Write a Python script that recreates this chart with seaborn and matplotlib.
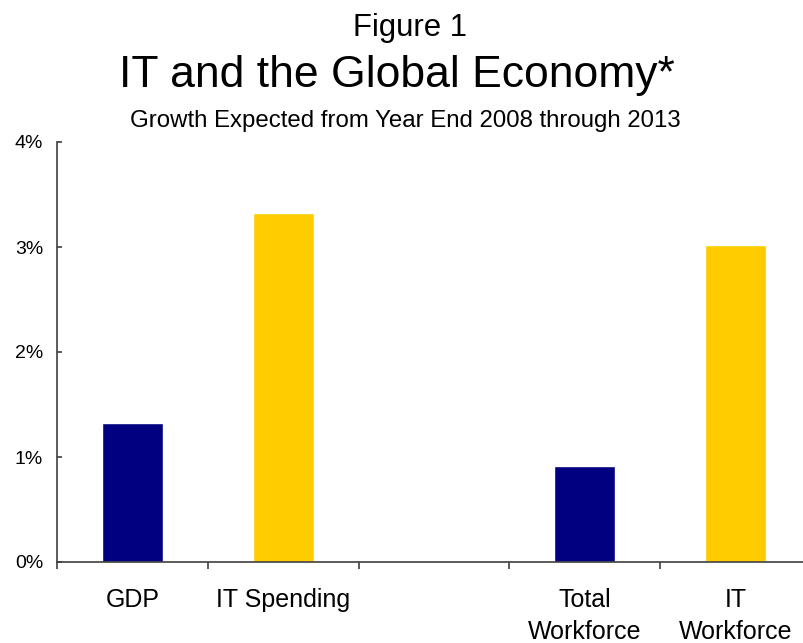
import matplotlib
matplotlib.use("Agg")
import matplotlib.pyplot as plt
import seaborn as sns
import numpy as np

categories = ["GDP", "IT Spending", " ", "Total\nWorkforce", "IT\nWorkforce"]
data_categories = ["GDP", "IT Spending", "Total\nWorkforce", "IT\nWorkforce"]
values = [1.32, 3.32, 0.91, 3.02]
bar_colors = ["#000080", "#FFCC00", "#000080", "#FFCC00"]
yticks = [0, 1, 2, 3, 4]
ytick_labels = ["0%", "1%", "2%", "3%", "4%"]

sns.set_theme(style="white")
plt.rcParams['font.family'] = ['Liberation Sans', 'DejaVu Sans']
plt.rcParams['text.color'] = 'black'
plt.rcParams['xtick.labelcolor'] = 'black'
plt.rcParams['ytick.labelcolor'] = 'black'

fig = plt.figure(figsize=(8.04, 6.43), dpi=100)
W, H = 804, 643
ax = fig.add_axes([57 / W, 1 - 562 / H, (811 - 57) / W, (562 - 142) / H])

palette = dict(zip(data_categories, bar_colors))
sns.barplot(x=data_categories, y=values, hue=data_categories, palette=palette,
            order=categories, hue_order=data_categories, legend=False,
            width=0.404, saturation=1, ax=ax)

ax.set_xlim(-0.5, 4.5)
ax.set_ylim(0, 4)
ax.set_yticks(yticks)
ax.set_yticklabels(ytick_labels)
ax.set_xticks(np.arange(-0.5, 5.0, 1.0))
ax.set_xticklabels([])
ax.set_xticks(range(len(categories)), categories, minor=True)
ax.set_xlabel("")
ax.set_ylabel("")

spine_color = "#404040"
for s in ["top", "right"]:
    ax.spines[s].set_visible(False)
for s in ["left", "bottom"]:
    ax.spines[s].set_color(spine_color)
    ax.spines[s].set_linewidth(1.2)

ax.tick_params(axis="y", which="major", direction="in", length=3.5, width=1.2,
               color=spine_color, pad=10, labelsize=14, labelcolor="black", left=True)
ax.tick_params(axis="x", which="major", direction="out", length=5, width=1.2,
               color=spine_color, bottom=True)
ax.tick_params(axis="x", which="minor", length=0, pad=19, labelsize=18, labelcolor="black")
for lbl in ax.get_xticklabels(minor=True):
    lbl.set_linespacing(1.42)
    lbl.set_verticalalignment("top")

fig.text(410 / W, 1 - 36 / H, "Figure 1", ha="center", va="baseline", fontsize=22.4)
fig.text(397 / W, 1 - 87 / H, "IT and the Global Economy*", ha="center", va="baseline", fontsize=32)
fig.text(405 / W, 1 - 127 / H, "Growth Expected from Year End 2008 through 2013", ha="center", va="baseline", fontsize=17.3)

fig.savefig("out.png", dpi=100)
